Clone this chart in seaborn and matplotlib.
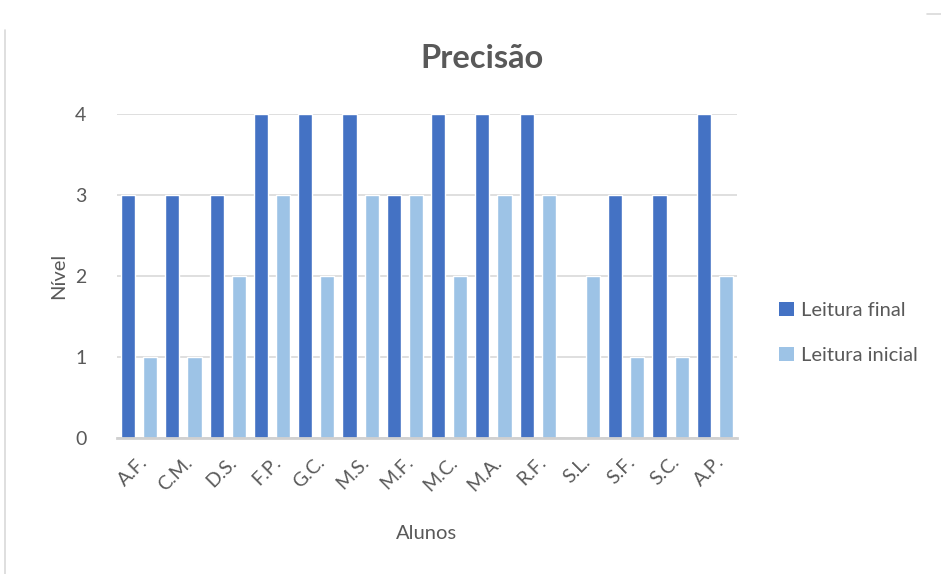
import matplotlib
matplotlib.use("Agg")
import matplotlib.pyplot as plt
from matplotlib.lines import Line2D
from matplotlib.patches import Patch
import seaborn as sns
import pandas as pd

alunos = ["A.F.", "C.M.", "D.S.", "F.P.", "G.C.", "M.S.", "M.F.",
          "M.C.", "M.A.", "R.F.", "S.L.", "S.F.", "S.C.", "A.P."]
leitura_final = [3, 3, 3, 4, 4, 4, 3, 4, 4, 4, 0, 3, 3, 4]
leitura_inicial = [1, 1, 2, 3, 2, 3, 3, 2, 3, 3, 2, 1, 1, 2]
series = ["Leitura final", "Leitura inicial"]
cores = ["#4472C4", "#9DC3E6"]

df = pd.DataFrame({
    "Alunos": alunos * 2,
    "Nível": leitura_final + leitura_inicial,
    "Série": [series[0]] * len(alunos) + [series[1]] * len(alunos),
})

sns.set_theme(style="white")
plt.rcParams["font.family"] = ["Lato", "DejaVu Sans"]
texto = "#595959"

fig = plt.figure(figsize=(9.41, 5.74), dpi=100)
ax = fig.add_axes([0.1243, 0.2369, 0.6589, 0.5645])

sns.barplot(data=df, x="Alunos", y="Nível", hue="Série", order=alunos,
            hue_order=series, palette=cores, width=1.0, gap=0.36,
            saturation=1, ax=ax, legend=False)

ax.set_xlim(-0.5, len(alunos) - 0.5)
ax.set_ylim(0, 4)
ax.set_yticks([0, 1, 2, 3, 4])
ax.yaxis.grid(True, color="#d9d9d9", linewidth=1.2)
ax.set_axisbelow(True)
for s in ["top", "right", "left"]:
    ax.spines[s].set_visible(False)
ax.spines["bottom"].set_color("#d0d0d0")
ax.spines["bottom"].set_linewidth(2)
ax.tick_params(axis="both", length=0, labelsize=14, labelcolor=texto)
ax.tick_params(axis="y", pad=22)
plt.setp(ax.get_xticklabels(), rotation=45, ha="right", rotation_mode="anchor")
ax.tick_params(axis="x", pad=11)

ax.set_xlabel("Alunos", fontsize=14.5, color=texto, labelpad=22)
ax.set_ylabel("Nível", fontsize=14.5, color=texto, labelpad=6)
fig.text(0.512, 1 - 59 / 574, "Precisão", fontsize=23.5, fontweight="bold",
         color=texto, ha="center", va="center")

handles = [Patch(facecolor=c, edgecolor="none") for c in cores]
fig.legend(handles, series, loc="center left", bbox_to_anchor=(0.828, 0.42),
           frameon=False, fontsize=14.5, labelcolor=texto, handlelength=0.72,
           handleheight=0.72, handletextpad=0.35, labelspacing=1.35,
           borderpad=0, borderaxespad=0)

# chart border fragments
fig.add_artist(Line2D([0.0053, 0.0053], [0.0, 0.948], color="#d9d9d9",
                      linewidth=1.2, transform=fig.transFigure))
fig.add_artist(Line2D([0.985, 1.0], [0.976, 0.976], color="#d9d9d9",
                      linewidth=1.2, transform=fig.transFigure))

fig.savefig("out.png", dpi=100, facecolor="white")
